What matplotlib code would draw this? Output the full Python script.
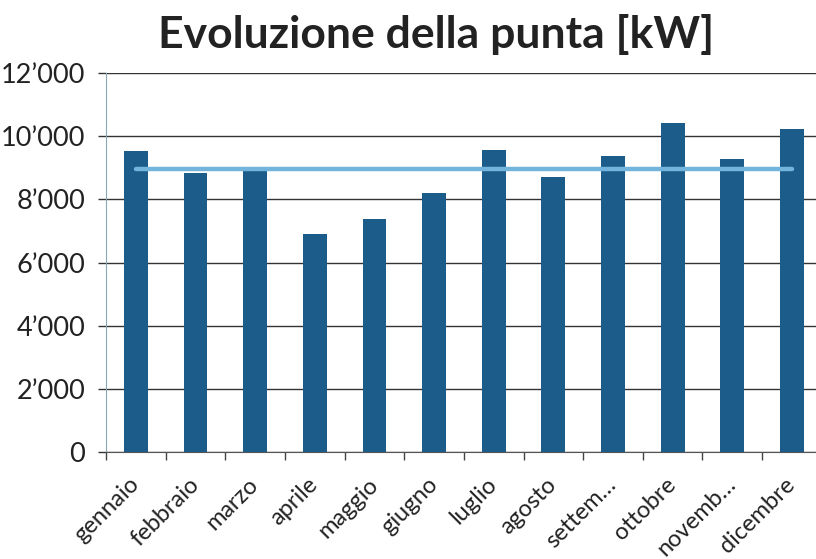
import matplotlib

matplotlib.use("Agg")
import matplotlib.pyplot as plt
import numpy as np

# Monthly peak power [kW]
MONTHS = ["gennaio", "febbraio", "marzo", "aprile", "maggio", "giugno",
          "luglio", "agosto", "settem…", "ottobre", "novemb…", "dicembre"]
PEAK_KW = [9520, 8830, 8990, 6900, 7370, 8200,
           9560, 8700, 9370, 10410, 9280, 10230]
Y_TICKS = [0, 2000, 4000, 6000, 8000, 10000, 12000]
Y_TICK_LABELS = ["0", "2’000", "4’000", "6’000", "8’000", "10’000", "12’000"]

BAR_COLOR = "#1b5c8a"
AVG_COLOR = "#72b4dc"

plt.rcParams.update({
    "font.family": ["Lato", "DejaVu Sans"],
})

fig = plt.figure(figsize=(8.16, 5.59), dpi=100)
# axes runs slightly past the right edge, as in the scanned original
ax = fig.add_axes([0.130, 0.1914, 0.877, 0.678])

x = np.arange(len(MONTHS))
ax.bar(x, PEAK_KW, width=0.4, color=BAR_COLOR, zorder=3)

# average line across the months
avg = np.mean(PEAK_KW)
ax.plot([x[0], x[-1]], [avg, avg], color=AVG_COLOR, linewidth=3.2,
        solid_capstyle="round", zorder=4)

ax.set_xlim(-0.5, len(MONTHS) - 0.5)
ax.set_ylim(0, 12000)
ax.set_yticks(Y_TICKS)
ax.set_yticklabels(Y_TICK_LABELS, fontsize=19.5, color="#222222")
ax.tick_params(axis="y", length=6, width=1.0, color="#333333", pad=9)

# category boundary ticks on the x axis, labels centred between them
ax.set_xticks(np.arange(len(MONTHS) + 1) - 0.5)
ax.set_xticklabels([])
ax.tick_params(axis="x", which="major", length=6, width=1.0,
               color="#444444", direction="out")
ax.set_xticks(x, minor=True)
ax.set_xticklabels(MONTHS, minor=True, rotation=45, ha="right",
                   va="center", rotation_mode="anchor", fontsize=17,
                   color="#222222")
ax.tick_params(axis="x", which="minor", length=0, pad=21)

ax.grid(True, axis="y", color="#333333", linewidth=1.0, zorder=0)
for side in ("top", "right"):
    ax.spines[side].set_visible(False)
ax.spines["left"].set_color("#8aa7b4")
ax.spines["bottom"].set_color("#555555")

fig.text(0.534, 0.939, "Evoluzione della punta [kW]", ha="center",
         va="center", fontsize=32, fontweight="bold", color="#222222")

fig.savefig("out.png", dpi=100)
